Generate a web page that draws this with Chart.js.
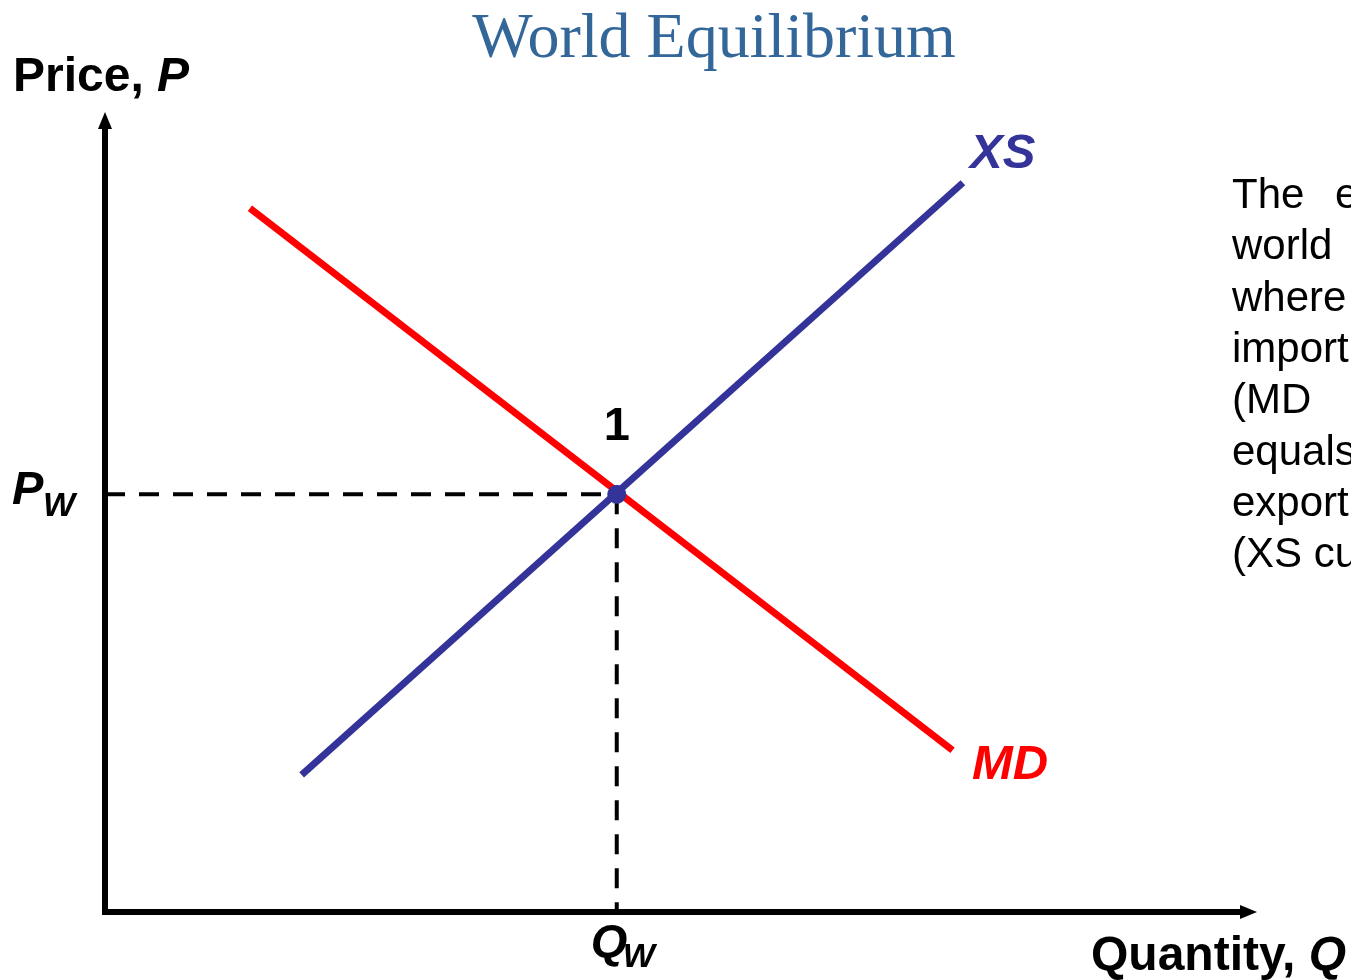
<!DOCTYPE html>
<html>
<head>
<meta charset="utf-8">
<title>World Equilibrium</title>
<script src="https://cdn.jsdelivr.net/npm/chart.js@4/dist/chart.umd.min.js"></script>
<style>
  html, body { margin: 0; padding: 0; background: #fff; overflow: hidden; }
  canvas { display: block; }
</style>
</head>
<body>
<canvas id="grafica" width="1351" height="980"></canvas>
<script>
// values (quantity / price on a 0-100 scale)
const mdQty = [12.6, 73.7];
const mdPrice = [88.3, 20.3];
const xsQty = [17.1, 74.6];
const xsPrice = [17.2, 91.5];
const eqQty = [44.5];
const eqPrice = [52.4];

const blue = '#333399';
const red = '#ff0000';

function pts(xs, ys){
  return xs.map((x, i) => ({x: x, y: ys[i]}));
}

// axes, arrows and all the text labels
const extras = {
  id: 'extras',
  beforeDatasetsDraw(chart){
    const ctx = chart.ctx;
    const a = chart.chartArea;
    ctx.save();
    ctx.strokeStyle = '#000';
    ctx.fillStyle = '#000';
    ctx.lineWidth = 6;
    ctx.beginPath();
    ctx.moveTo(a.left, a.top + 12);
    ctx.lineTo(a.left, a.bottom);
    ctx.lineTo(a.right - 12, a.bottom);
    ctx.stroke();
    // arrow heads
    ctx.beginPath();
    ctx.moveTo(a.left, a.top - 3);
    ctx.lineTo(a.left - 7, a.top + 14);
    ctx.lineTo(a.left + 7, a.top + 14);
    ctx.closePath();
    ctx.fill();
    ctx.beginPath();
    ctx.moveTo(a.right + 2, a.bottom);
    ctx.lineTo(a.right - 15, a.bottom - 7);
    ctx.lineTo(a.right - 15, a.bottom + 7);
    ctx.closePath();
    ctx.fill();
    ctx.restore();
  },
  afterDraw(chart){
    const ctx = chart.ctx;
    const sx = chart.scales.x, sy = chart.scales.y;
    const ex = sx.getPixelForValue(eqQty[0]);
    const ey = sy.getPixelForValue(eqPrice[0]);
    ctx.save();
    ctx.textBaseline = 'alphabetic';
    ctx.textAlign = 'left';

    // title
    ctx.fillStyle = '#336699';
    ctx.font = '64px "Liberation Serif", "Times New Roman", serif';
    ctx.textAlign = 'center';
    ctx.fillText('World Equilibrium', 714, 57);
    ctx.textAlign = 'left';

    ctx.fillStyle = '#000';
    ctx.font = 'bold 48px "Liberation Sans", Arial, sans-serif';
    ctx.fillText('Price, ', 13, 91);
    let w = ctx.measureText('Price, ').width;
    ctx.font = 'italic bold 48px "Liberation Sans", Arial, sans-serif';
    ctx.fillText('P', 13 + w, 91);

    ctx.font = 'bold 48px "Liberation Sans", Arial, sans-serif';
    ctx.fillText('Quantity, ', 1091, 970);
    w = ctx.measureText('Quantity, ').width;
    ctx.font = 'italic bold 48px "Liberation Sans", Arial, sans-serif';
    ctx.fillText('Q', 1091 + w, 970);

    // P_W
    ctx.font = 'italic bold 47px "Liberation Sans", Arial, sans-serif';
    ctx.fillText('P', 12, ey + 10);
    ctx.font = 'italic bold 34px "Liberation Sans", Arial, sans-serif';
    ctx.fillText('W', 43, ey + 22);

    // Q_W
    ctx.font = 'italic bold 47px "Liberation Sans", Arial, sans-serif';
    ctx.fillText('Q', ex - 26, 957);
    ctx.font = 'italic bold 34px "Liberation Sans", Arial, sans-serif';
    ctx.fillText('W', ex + 6, 967);

    // point label
    ctx.font = 'bold 47px "Liberation Sans", Arial, sans-serif';
    ctx.textAlign = 'center';
    ctx.fillText('1', ex, ey - 54);
    ctx.textAlign = 'left';

    // curve labels
    ctx.font = 'italic bold 49px "Liberation Sans", Arial, sans-serif';
    ctx.fillStyle = blue;
    ctx.fillText('XS', 970, 168);
    ctx.fillStyle = red;
    ctx.fillText('MD', 972, 779);

    // side text (cut by the right edge)
    ctx.fillStyle = '#000';
    ctx.font = '42px "Liberation Sans", Arial, sans-serif';
    const lines = [['The', 'equilibrium'], ['world', ''], ['where', ''], ['import', ''],
                   ['(MD', ''], ['equals', ''], ['export', ''], ['(XS curve).', '']];
    lines.forEach((l, i) => {
      const y = 208 + i * 51.3;
      ctx.fillText(l[0], 1232, y);
      if (l[1]) ctx.fillText(l[1], 1335, y);
    });
    ctx.restore();
  }
};

const data = {
  datasets: [
    {
      data: [{x: 0, y: eqPrice[0]}, {x: eqQty[0], y: eqPrice[0]}],
      borderColor: '#000', borderWidth: 4, borderDash: [20, 14],
      pointRadius: 0, showLine: true, order: 4
    },
    {
      data: [{x: eqQty[0], y: eqPrice[0]}, {x: eqQty[0], y: 0}],
      borderColor: '#000', borderWidth: 4, borderDash: [20, 14],
      pointRadius: 0, showLine: true, order: 3
    },
    {
      data: pts(mdQty, mdPrice),
      borderColor: red, borderWidth: 7,
      pointRadius: 0, showLine: true, order: 2
    },
    {
      data: pts(xsQty, xsPrice),
      borderColor: blue, borderWidth: 7,
      pointRadius: 0, showLine: true, order: 1
    },
    {
      data: pts(eqQty, eqPrice),
      backgroundColor: blue, borderColor: blue, borderWidth: 1,
      pointRadius: 9, pointHoverRadius: 9, showLine: false, order: 0
    }
  ]
};

const config = {
  type: 'scatter',
  data: data,
  options: {
    responsive: false,
    animation: false,
    layout: { padding: { left: 105, right: 96, top: 115, bottom: 68 } },
    plugins: { legend: { display: false }, tooltip: { enabled: false } },
    scales: {
      x: { display: false, min: 0, max: 100 },
      y: { display: false, min: 0, max: 100 }
    }
  },
  plugins: [extras]
};

new Chart(document.querySelector('#grafica'), config);
</script>
</body>
</html>
